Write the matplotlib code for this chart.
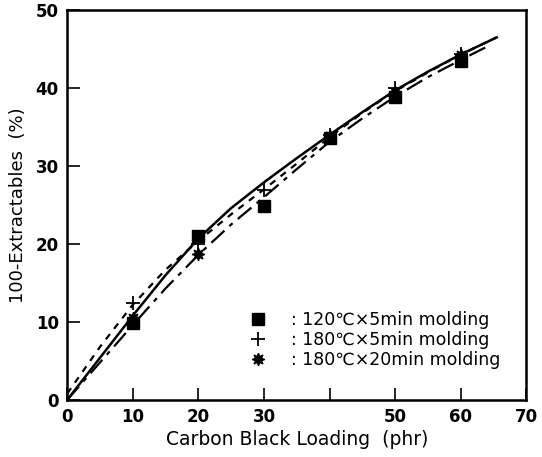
import matplotlib.pyplot as plt

plt.rcParams['font.family'] = ['DejaVu Sans']

# measured points (Carbon black loading, phr)
loading = [10, 20, 30, 40, 50, 60]
sq_120_5 = [9.9, 21.0, 24.9, 33.6, 38.8, 43.5]
plus_180_5 = [12.4, 20.0, 26.9, 34.0, 40.0, 44.3]
star_loading = [10, 20, 40, 50, 60]
star_180_20 = [10.5, 18.7, 33.8, 39.5, 44.2]

# fitted curves
curve_x = [0, 5, 10, 15, 20, 25, 30, 35, 40, 45, 50, 55, 60, 65.5]
solid_y = [0, 5.4, 10.8, 16.0, 20.7, 24.6, 27.9, 31.0, 34.0, 36.9, 39.7, 42.1, 44.3, 46.5]
dotted_y = [0.8, 6.8, 12.2, 16.7, 20.4, 23.8, 27.0, 30.3, 33.7, 36.8, 39.6, 42.0, 44.3, 46.5]
dashdot_x = [0, 5, 10, 15, 20, 25, 30, 35, 40, 45, 50, 55, 60, 64]
dashdot_y = [0, 4.8, 9.6, 14.3, 18.6, 22.5, 26.0, 29.6, 33.1, 36.1, 38.9, 41.4, 43.6, 45.3]

xticks = [0, 10, 20, 30, 40, 50, 60, 70]
xtick_labels = ['0', '10', '20', '30', '', '50', '60', '70']
yticks = [0, 10, 20, 30, 40, 50]

fig = plt.figure(figsize=(5.42, 4.57), dpi=100)
ax = fig.add_axes([0.124, 0.125, 0.847, 0.853])

ax.plot(curve_x, solid_y, color='black', lw=1.8, ls='-')
ax.plot(curve_x, dotted_y, color='black', lw=1.6, ls=(0, (3, 3)))
ax.plot(dashdot_x, dashdot_y, color='black', lw=1.6, ls=(0, (8, 3, 2, 3)))

h1, = ax.plot(loading, sq_120_5, ls='none', marker='s', ms=8, color='black')
h2, = ax.plot(loading, plus_180_5, ls='none', marker='+', ms=10, mew=1.3, color='black')
h3, = ax.plot(star_loading, star_180_20, ls='none', marker=(8, 1, 0), ms=9, color='black')

ax.legend([h1, h2, h3],
          [': 120\u2103\u00d75min molding', ': 180\u2103\u00d75min molding',
           ': 180\u2103\u00d720min molding'],
          loc='lower left', bbox_to_anchor=(0.4, 0.08), frameon=False,
          handlelength=0.8, handletextpad=1.5, labelspacing=0.1, fontsize=12.5,
          borderpad=0, borderaxespad=0)

ax.set_xlim(0, 70)
ax.set_ylim(0, 50)
ax.set_xticks(xticks)
ax.set_xticklabels(xtick_labels)
ax.set_yticks(yticks)
ax.tick_params(direction='in', length=9, width=1.2, labelsize=12, pad=6)
for lab in ax.get_xticklabels() + ax.get_yticklabels():
    lab.set_fontweight('bold')
for s in ax.spines.values():
    s.set_linewidth(1.8)

ax.set_xlabel('Carbon Black Loading  (phr)', fontsize=13.5, labelpad=3)
ax.set_ylabel('100-Extractables  (%)', fontsize=13, labelpad=6)

fig.savefig('out.png', dpi=100)
